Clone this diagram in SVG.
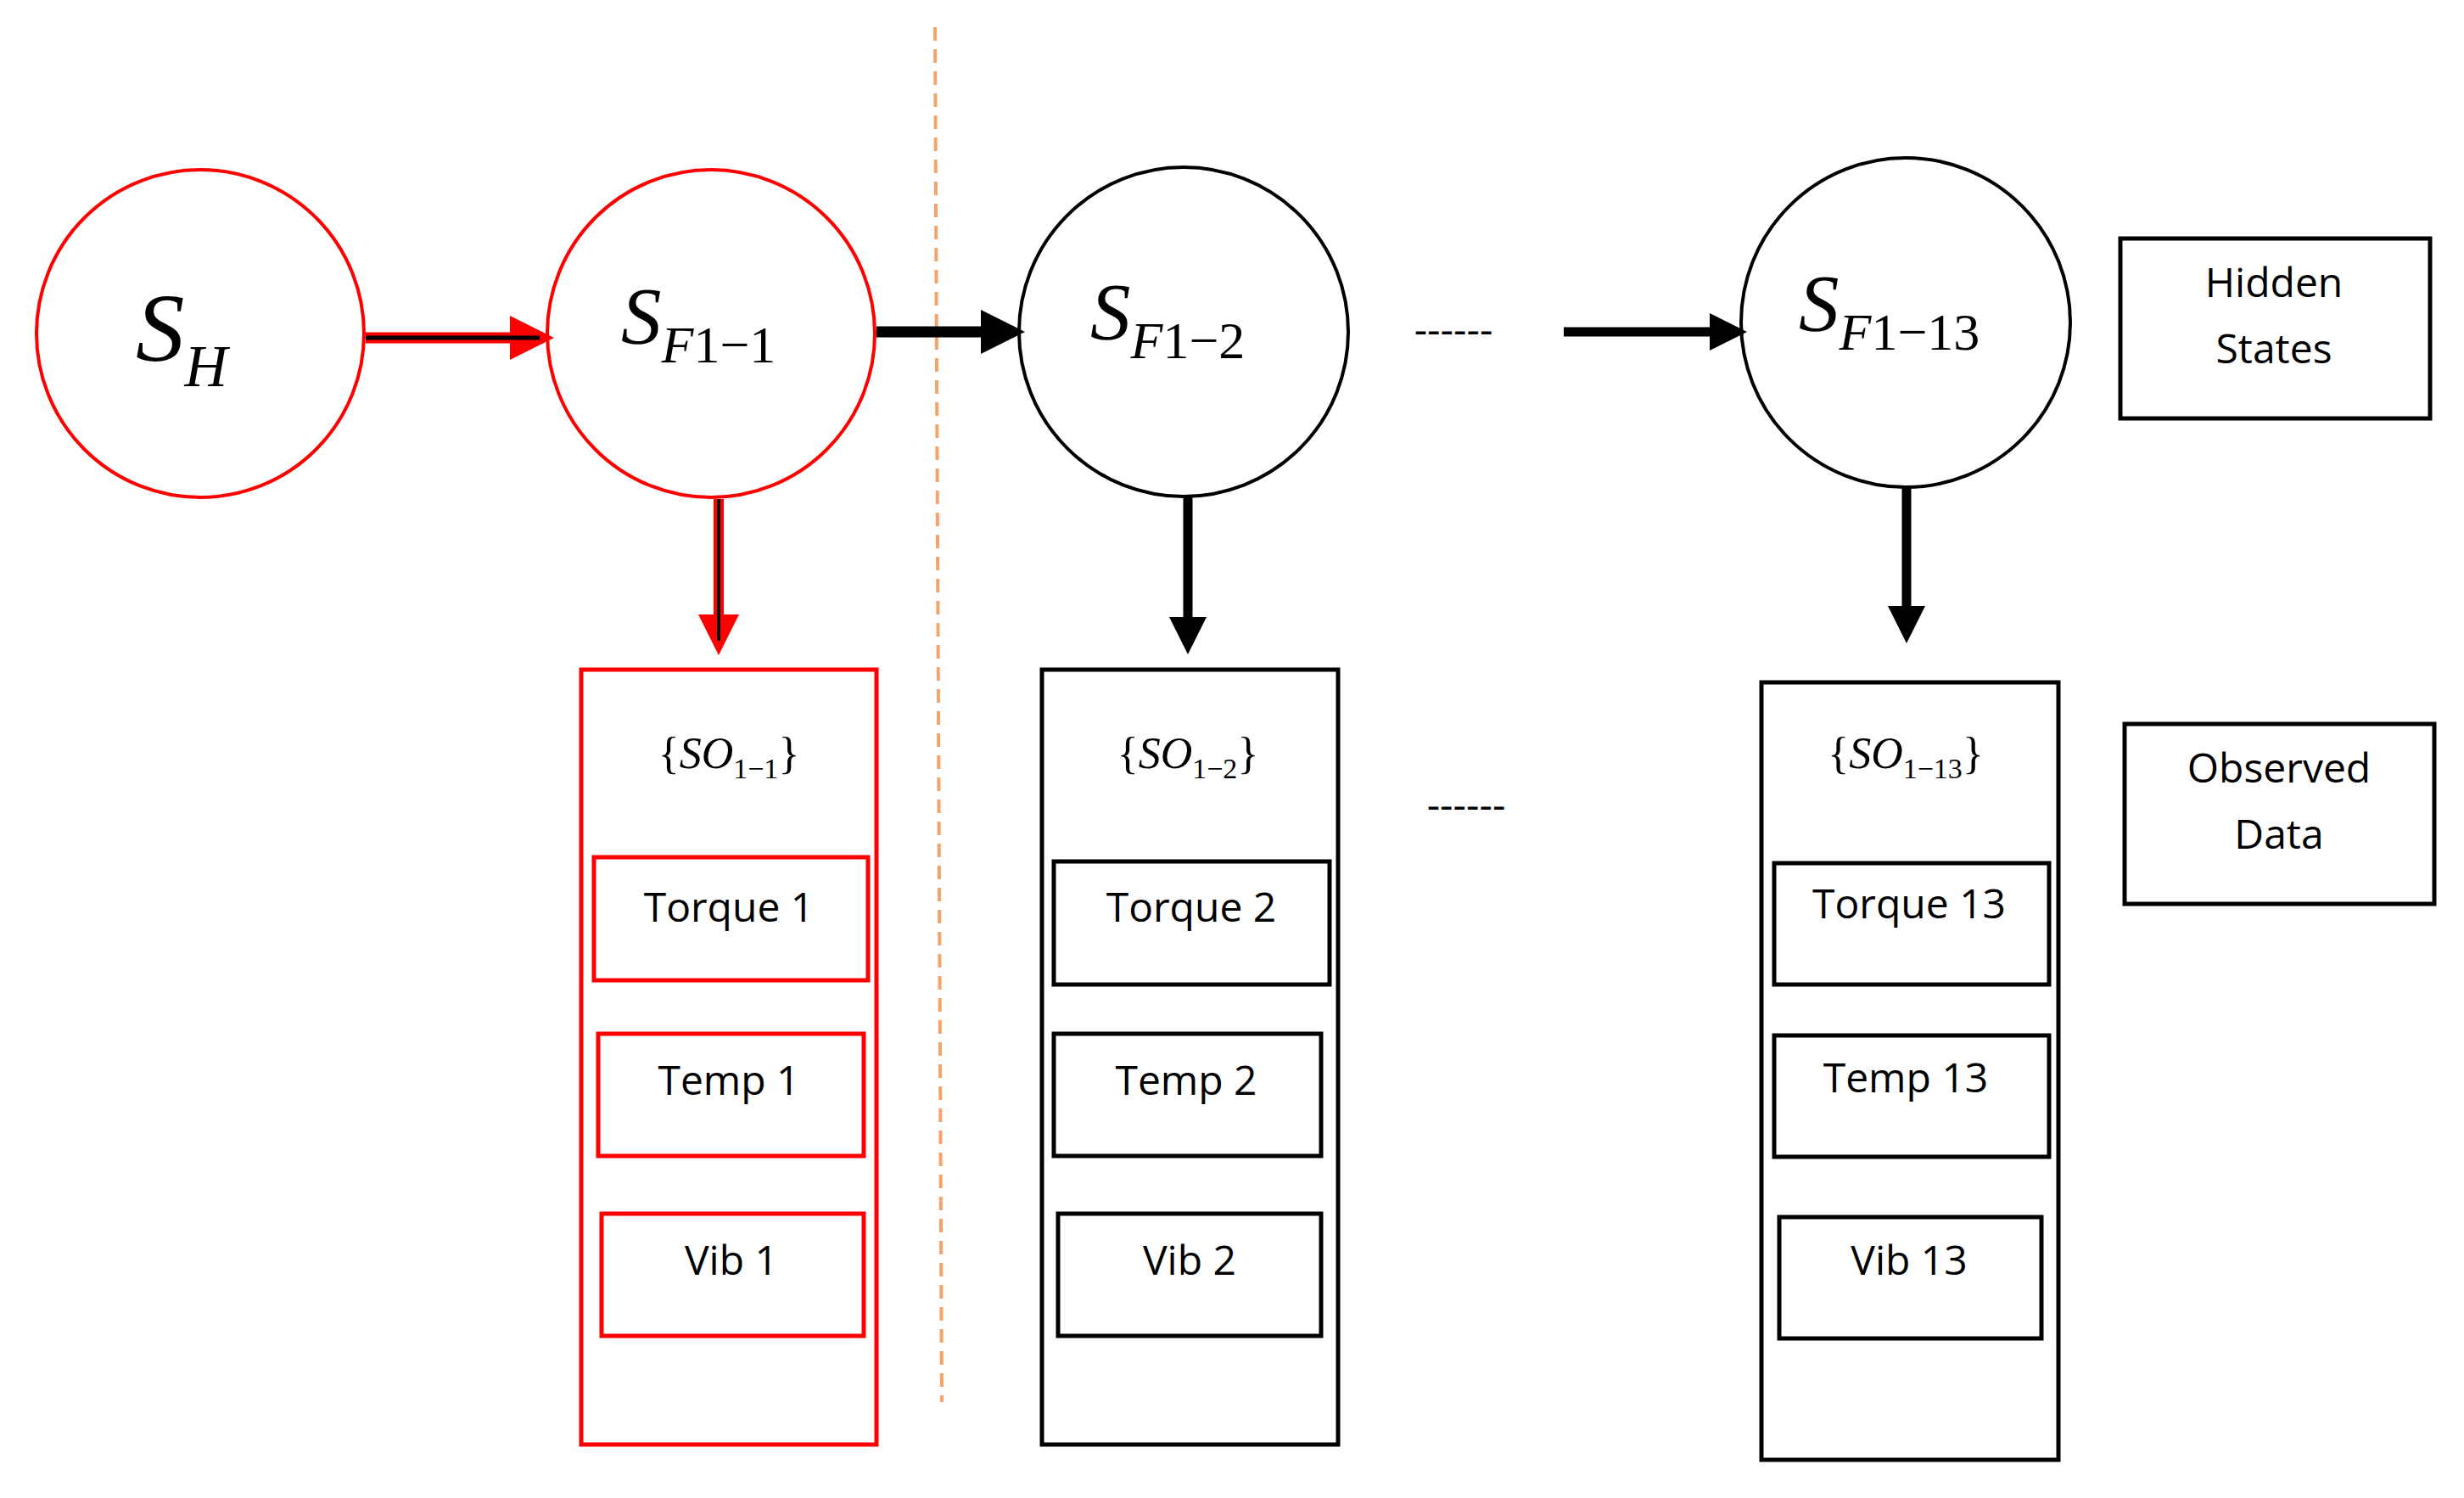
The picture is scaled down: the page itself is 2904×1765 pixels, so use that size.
<svg xmlns="http://www.w3.org/2000/svg" width="2904" height="1765" viewBox="0 0 2904 1765">
<style>
.t{font-family:"Open Sans","Liberation Sans",sans-serif;font-size:48px;text-anchor:middle;fill:#000}
.m{font-family:"Liberation Serif",serif;font-style:italic;fill:#000}
.up{font-style:normal}
.rc{fill:none;stroke:#f00;stroke-width:4}
.bc{fill:none;stroke:#000;stroke-width:4}
.rb{fill:none;stroke:#f00;stroke-width:5}
.bb{fill:none;stroke:#000;stroke-width:5}
</style>
<defs>
<marker id="ah" markerWidth="4" markerHeight="4" refX="3" refY="2" orient="auto" markerUnits="strokeWidth"><path d="M0,0 L4,2 L0,4 z" fill="#000"/></marker>
<marker id="ahr" markerWidth="4" markerHeight="4" refX="3" refY="2" orient="auto" markerUnits="strokeWidth"><path d="M0,0 L4,2 L0,4 z" fill="#f00"/></marker>
</defs>
<rect width="2904" height="1765" fill="#fff"/>
<line x1="1102" y1="32" x2="1110" y2="1652" stroke="#f4a46a" stroke-width="4" stroke-dasharray="16,10"/>
<g id="connectors">
<line x1="431" y1="398" x2="640" y2="398" stroke="#f00" stroke-width="13" marker-end="url(#ahr)"/>
<line x1="431" y1="398" x2="636" y2="398" stroke="#000" stroke-width="5"/>
<line x1="1033" y1="391" x2="1195" y2="391" stroke="#000" stroke-width="13" marker-end="url(#ah)"/>
<line x1="1843" y1="391" x2="2048" y2="391" stroke="#000" stroke-width="11" marker-end="url(#ah)"/>
<line x1="847" y1="588" x2="847" y2="760" stroke="#f00" stroke-width="12" marker-end="url(#ahr)"/>
<line x1="847" y1="588" x2="847" y2="755" stroke="#000" stroke-width="4"/>
<line x1="1400" y1="585" x2="1400" y2="760" stroke="#000" stroke-width="11" marker-end="url(#ah)"/>
<line x1="2247" y1="575" x2="2247" y2="747" stroke="#000" stroke-width="11" marker-end="url(#ah)"/>
<text class="t" x="1713" y="405">------</text>
<text class="t" x="1728" y="965">------</text>
</g>
<g id="SH"><circle class="rc" cx="236" cy="393" r="193"/>
<text class="m" x="160" y="425" font-size="115">S<tspan font-size="70" dy="30">H</tspan></text></g>
<g id="SF1-1"><circle class="rc" cx="838" cy="393" r="193"/>
<text class="m" x="732" y="405" font-size="95">S<tspan font-size="62" dy="22">F<tspan class="up">1−1</tspan></tspan></text></g>
<g id="SF1-2"><circle class="bc" cx="1395" cy="391" r="194"/>
<text class="m" x="1285" y="400" font-size="95">S<tspan font-size="62" dy="22">F<tspan class="up">1−2</tspan></tspan></text></g>
<g id="SF1-13"><circle class="bc" cx="2246" cy="380" r="194"/>
<text class="m" x="2120" y="390" font-size="95">S<tspan font-size="62" dy="22">F<tspan class="up">1−13</tspan></tspan></text></g>
<g id="hidden"><rect class="bb" x="2499" y="281" width="365" height="212"/>
<text class="t" x="2680" y="350">Hidden</text><text class="t" x="2680" y="428">States</text></g>
<g id="observed"><rect class="bb" x="2504" y="853" width="365" height="212"/>
<text class="t" x="2686" y="922">Observed</text><text class="t" x="2686" y="1000">Data</text></g>
<g id="obs1"><rect class="rb" x="685" y="789" width="348" height="913"/>
<text class="m" x="859" y="905" font-size="52" text-anchor="middle"><tspan class="up">{</tspan>SO<tspan font-size="34" dy="12" class="up">1−1</tspan><tspan dy="-12" class="up">}</tspan></text>
<rect class="rb" x="700" y="1010" width="323" height="145"/><text class="t" x="859" y="1086">Torque 1</text>
<rect class="rb" x="705" y="1218" width="313" height="144"/><text class="t" x="859" y="1290">Temp 1</text>
<rect class="rb" x="709" y="1430" width="309" height="144"/><text class="t" x="862" y="1502">Vib 1</text></g>
<g id="obs2"><rect class="bb" x="1228" y="789" width="349" height="913"/>
<text class="m" x="1400" y="905" font-size="52" text-anchor="middle"><tspan class="up">{</tspan>SO<tspan font-size="34" dy="12" class="up">1−2</tspan><tspan dy="-12" class="up">}</tspan></text>
<rect class="bb" x="1242" y="1015" width="325" height="145"/><text class="t" x="1404" y="1086">Torque 2</text>
<rect class="bb" x="1242" y="1218" width="315" height="144"/><text class="t" x="1398" y="1290">Temp 2</text>
<rect class="bb" x="1247" y="1430" width="310" height="144"/><text class="t" x="1402" y="1502">Vib 2</text></g>
<g id="obs13"><rect class="bb" x="2076" y="804" width="350" height="916"/>
<text class="m" x="2246" y="905" font-size="52" text-anchor="middle"><tspan class="up">{</tspan>SO<tspan font-size="34" dy="12" class="up">1−13</tspan><tspan dy="-12" class="up">}</tspan></text>
<rect class="bb" x="2091" y="1017" width="324" height="143"/><text class="t" x="2250" y="1082">Torque 13</text>
<rect class="bb" x="2091" y="1220" width="324" height="143"/><text class="t" x="2246" y="1287">Temp 13</text>
<rect class="bb" x="2097" y="1434" width="309" height="143"/><text class="t" x="2250" y="1502">Vib 13</text></g>
</svg>
